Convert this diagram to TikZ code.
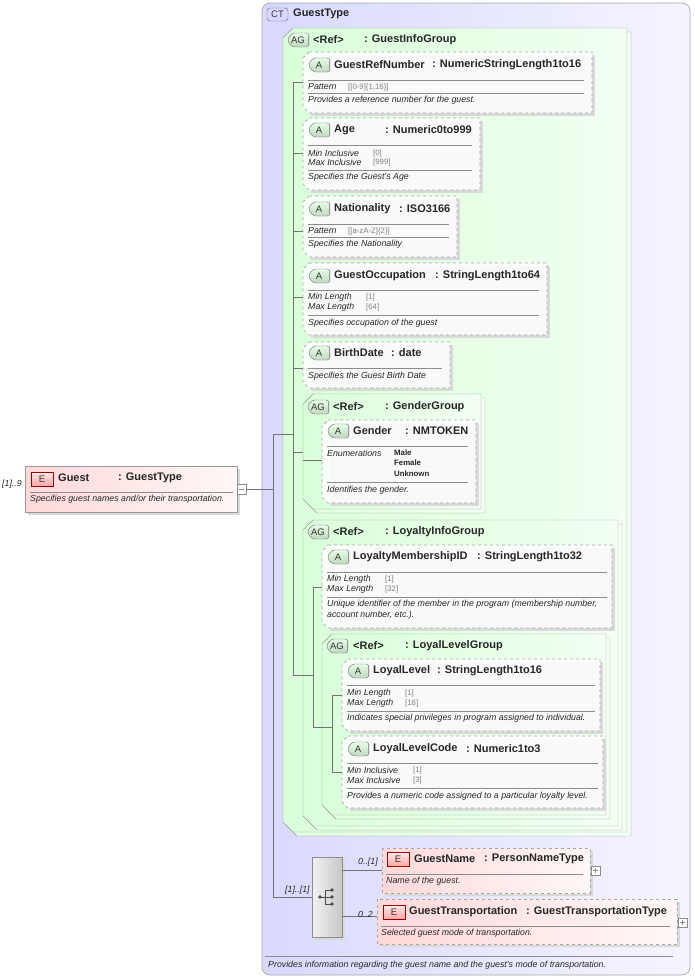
\documentclass[tikz,border=0pt]{standalone}
\usepackage{fontspec}
\setmainfont{Liberation Sans}
\begin{document}
\begin{tikzpicture}[x=1pt,y=-1pt,
 ttl/.style={font=\fontsize{11}{12}\selectfont\bfseries, anchor=west, inner sep=0, text=black!85},
 lab/.style={font=\fontsize{8.8}{9}\selectfont\itshape, anchor=west, inner sep=0, text=black!85},
 val/.style={font=\fontsize{7.8}{9}\selectfont, anchor=west, inner sep=0, text=black!50},
 enm/.style={font=\fontsize{7.8}{9}\selectfont\bfseries, anchor=west, inner sep=0, text=black!85},
 sep/.style={draw=black!45, line width=0.6pt},
 con/.style={draw=black!55, line width=0.6pt},
 bdg/.style={font=\fontsize{9.5}{10}\selectfont, inner sep=0, text=black!80}]
\useasboundingbox (0,0) rectangle (695,980);
% helpers
\newcommand\attrbox[5]{% name x1 y1 x2 y2
 \fill[black!15] ({#2+8},{#3+3}) -- ({#4+3},{#3+3}) -- ({#4+3},{#5+3}) -- ({#2+8},{#5+3}) -- cycle;
 \draw[dashed, draw=black!35, fill=white, fill opacity=0.85, line width=0.7pt] ({#2+6},#3) -- (#4,#3) -- (#4,#5) -- ({#2+6},#5) -- (#2,{#5-6}) -- (#2,{#3+6}) -- cycle;
 \coordinate (#1) at (#2,#3);}
\newcommand\agbox[5]{%
 \draw[draw=black!40, left color=green!12, right color=green!4] ({#2+14},{#3+4}) -- ({#4+4},{#3+4}) -- ({#4+4},{#5+4}) -- ({#2+14},{#5+4}) -- ({#2+4},{#5-6}) -- ({#2+4},{#3+14}) -- cycle;
 \draw[draw=black!40, left color=green!15, right color=green!5] ({#2+10},#3) -- (#4,#3) -- (#4,#5) -- ({#2+10},#5) -- (#2,{#5-10}) -- (#2,{#3+10}) -- cycle;
 \coordinate (#1) at (#2,#3);}
\newcommand\abadge[3]{% x y text
 \draw[draw=black!55, top color=green!10, bottom color=green!35!black!25, rounded corners=3pt] ({#1+22},{#2-7}) -- ({#1+5},{#2-7}) -- (#1,#2) -- ({#1+5},{#2+7}) -- ({#1+22},{#2+7}) -- cycle;
 \draw[draw=black!40, line width=1pt] ({#1+21},{#2-6}) -- ({#1+21},{#2+6});
 \node[bdg] at ({#1+11},#2) {#3};}
\newcommand\ebadge[2]{%
 \draw[draw=red!60!black, top color=red!8, bottom color=red!35] (#1,{#2-7}) rectangle ({#1+22},{#2+7});
 \node[bdg] at ({#1+11},#2) {E};}
% CT box
\draw[draw=black!35, rounded corners=8pt, left color=blue!15, right color=blue!4, line width=0.7pt] (262,3) rectangle (690,975);
\draw[draw=black!60, fill=blue!15, rounded corners=3pt] (267,8) rectangle (288,21);
\node[bdg] at (277.5,14.5) {CT};
\node[ttl] (ct) at (293,14) {GuestType};
\draw[sep] (265,956) -- (673,956);
\node[lab] at (268,965) {Provides information regarding the guest name and the guest's mode of transportation.};
% GuestInfoGroup
\agbox{gig}{283}{28}{627}{832}
\abadge{287}{40}{AG}
\node[ttl] at (313,40) {<Ref>};
\node[ttl] at (364,40) {: GuestInfoGroup};
% GuestRefNumber
\attrbox{grn}{303}{52}{592}{113}
\abadge{308}{65}{A}
\node[ttl] at (334,65) {GuestRefNumber};
\node[ttl] at (432,65) {: NumericStringLength1to16};
\draw[sep] (308,80) -- (584,80);
\node[lab] at (308,87) {Pattern}; \node[val] at (348,87) {[[0-9]\{1,16\}]};
\draw[sep] (308,93) -- (584,93);
\node[lab] at (308,100) {Provides a reference number for the guest.};
% Age
\attrbox{age}{303}{118}{480}{190}
\abadge{308}{130}{A}
\node[ttl] at (334,130) {Age}; \node[ttl] at (385,130) {: Numeric0to999};
\draw[sep] (308,145) -- (472,145);
\node[lab] at (308,153) {Min Inclusive}; \node[val] at (373,153) {[0]};
\node[lab] at (308,162) {Max Inclusive}; \node[val] at (373,162) {[999]};
\draw[sep] (308,170) -- (472,170);
\node[lab] at (308,177) {Specifies the Guest's Age};
% Nationality
\attrbox{nat}{303}{196}{457}{257}
\abadge{308}{209}{A}
\node[ttl] at (334,209) {Nationality}; \node[ttl] at (399,209) {: ISO3166};
\draw[sep] (308,224) -- (449,224);
\node[lab] at (308,231) {Pattern}; \node[val] at (348,231) {[[a-zA-Z]\{2\}]};
\draw[sep] (308,237) -- (449,237);
\node[lab] at (308,244) {Specifies the Nationality};
% GuestOccupation
\attrbox{occ}{303}{263}{547}{335}
\abadge{308}{276}{A}
\node[ttl] at (334,276) {GuestOccupation}; \node[ttl] at (435,276) {: StringLength1to64};
\draw[sep] (308,290) -- (539,290);
\node[lab] at (308,297) {Min Length}; \node[val] at (366,297) {[1]};
\node[lab] at (308,307) {Max Length}; \node[val] at (366,307) {[64]};
\draw[sep] (308,315) -- (539,315);
\node[lab] at (308,323) {Specifies occupation of the guest};
% BirthDate
\attrbox{bd}{303}{342}{450}{388}
\abadge{308}{353}{A}
\node[ttl] at (334,353) {BirthDate}; \node[ttl] at (391,353) {: date};
\draw[sep] (308,368) -- (442,368);
\node[lab] at (308,376) {Specifies the Guest Birth Date};
% GenderGroup
\agbox{gg}{303}{394}{481}{509}
\abadge{307}{407}{AG}
\node[ttl] at (333,407) {<Ref>}; \node[ttl] at (385,407) {: GenderGroup};
\attrbox{gen}{322}{420}{476}{503}
\abadge{327}{431}{A}
\node[ttl] at (353,431) {Gender}; \node[ttl] at (405,431) {: NMTOKEN};
\draw[sep] (327,446) -- (468,446);
\node[lab] at (327,453) {Enumerations};
\node[enm] at (394,453) {Male}; \node[enm] at (394,463) {Female}; \node[enm] at (394,474) {Unknown};
\draw[sep] (327,482) -- (468,482);
\node[lab] at (327,490) {Identifies the gender.};
% LoyaltyInfoGroup
\agbox{lig}{303}{520}{618}{826}
\abadge{307}{532}{AG}
\node[ttl] at (333,532) {<Ref>}; \node[ttl] at (385,532) {: LoyaltyInfoGroup};
\attrbox{lmid}{322}{545}{612}{628}
\abadge{327}{557}{A}
\node[ttl] at (353,557) {LoyaltyMembershipID}; \node[ttl] at (477,557) {: StringLength1to32};
\draw[sep] (327,572) -- (607,572);
\node[lab] at (327,579) {Min Length}; \node[val] at (385,579) {[1]};
\node[lab] at (327,589) {Max Length}; \node[val] at (385,589) {[32]};
\draw[sep] (327,597) -- (607,597);
\node[lab] at (327,604) {Unique identifier of the member in the program (membership number,};
\node[lab] at (327,615) {account number, etc.).};
% LoyalLevelGroup
\agbox{llg}{322}{634}{606}{815}
\abadge{326}{646}{AG}
\node[ttl] at (353,646) {<Ref>}; \node[ttl] at (405,646) {: LoyalLevelGroup};
\attrbox{ll}{342}{659}{600}{731}
\abadge{347}{671}{A}
\node[ttl] at (373,671) {LoyalLevel}; \node[ttl] at (437,671) {: StringLength1to16};
\draw[sep] (347,685) -- (595,685);
\node[lab] at (347,693) {Min Length}; \node[val] at (405,693) {[1]};
\node[lab] at (347,703) {Max Length}; \node[val] at (405,703) {[16]};
\draw[sep] (347,711) -- (595,711);
\node[lab] at (347,718) {Indicates special privileges in program assigned to individual.};
\attrbox{llc}{342}{736}{603}{808}
\abadge{347}{749}{A}
\node[ttl] at (373,749) {LoyalLevelCode}; \node[ttl] at (466,749) {: Numeric1to3};
\draw[sep] (347,763) -- (598,763);
\node[lab] at (347,770) {Min Inclusive}; \node[val] at (413,770) {[1]};
\node[lab] at (347,780) {Max Inclusive}; \node[val] at (413,780) {[3]};
\draw[sep] (347,788) -- (598,788);
\node[lab] at (347,796) {Provides a numeric code assigned to a particular loyalty level.};
% tree connectors
\draw[con] (293,82) -- (293,675);
\foreach \yy in {82,153,231,297,368,452} {\draw[con] (293,\yy) -- (303,\yy);}
\draw[con] (293,675) -- (313,675);
\draw[con] (303,460) -- (322,460);
\draw[con] (313,587) -- (313,727);
\draw[con] (313,587) -- (322,587);
\draw[con] (313,727) -- (332,727);
\draw[con] (332,695) -- (332,772);
\draw[con] (332,695) -- (342,695);
\draw[con] (332,772) -- (342,772);
% Guest element
\fill[black!15] (28,469) rectangle (240,515);
\draw[draw=black!40, left color=red!15, right color=red!3] (25,466) rectangle (237,512);
\ebadge{31}{479}
\node[ttl] (guest) at (58,478) {Guest}; \node[ttl] at (118,478) {: GuestType};
\draw[sep] (30,492) -- (233,492);
\node[lab] at (30,499) {Specifies guest names and/or their transportation.};
\node[lab] at (2,484) {[1]..9};
\draw[draw=black!45, fill=white] (237,484) rectangle (246,494);
\draw[black!45] (239,489) -- (244,489);
\draw[con] (246,489) -- (273,489);
\draw[con] (273,434) -- (273,897);
\draw[con] (273,434) -- (293,434);
\draw[con] (273,897) -- (312,897);
\node[lab] at (285,890) {[1]..[1]};
% sequence
\fill[black!15] (315,860) rectangle (345,940);
\draw[draw=black!45, left color=black!5, right color=black!22] (312,857) rectangle (342,937);
\coordinate (seq) at (312,857);
\fill[black!70] (320,897) circle (1.8);
\draw[black!70, line width=0.8pt] (320,897) -- (325,897) (325,890) -- (325,904) (325,890) -- (332,890) (325,897) -- (332,897) (325,904) -- (332,904);
\foreach \yy in {890,897,904} \fill[black!70] (332,\yy) circle (1.8);
\draw[con] (342,870) -- (382,870);
\node[lab] at (358,862) {0..[1]};
\draw[con] (342,916) -- (377,916);
\node[lab] at (358,914) {0..2};
% GuestName
\fill[black!15] (385,851) rectangle (593,896);
\draw[dashed, draw=black!35, left color=red!15, right color=red!3, line width=0.7pt] (382,848) rectangle (590,893);
\ebadge{387}{859}
\node[ttl] (gn) at (414,859) {GuestName}; \node[ttl] at (484,859) {: PersonNameType};
\draw[sep] (386,874) -- (583,874);
\node[lab] at (386,881) {Name of the guest.};
\draw[draw=black!45, fill=white] (591,866) rectangle (600,875);
\draw[black!45] (593,870.5) -- (598,870.5) (595.5,868) -- (595.5,873);
% GuestTransportation
\fill[black!15] (380,902) rectangle (680,947);
\draw[dashed, draw=black!35, left color=red!15, right color=red!3, line width=0.7pt] (377,899) rectangle (677,944);
\ebadge{383}{912}
\node[ttl] (gt) at (409,912) {GuestTransportation}; \node[ttl] at (526,912) {: GuestTransportationType};
\draw[sep] (381,926) -- (670,926);
\node[lab] at (381,933) {Selected guest mode of transportation.};
\draw[draw=black!45, fill=white] (678,918) rectangle (687,927);
\draw[black!45] (680,922.5) -- (685,922.5) (682.5,920) -- (682.5,925);
\end{tikzpicture}
\end{document}
